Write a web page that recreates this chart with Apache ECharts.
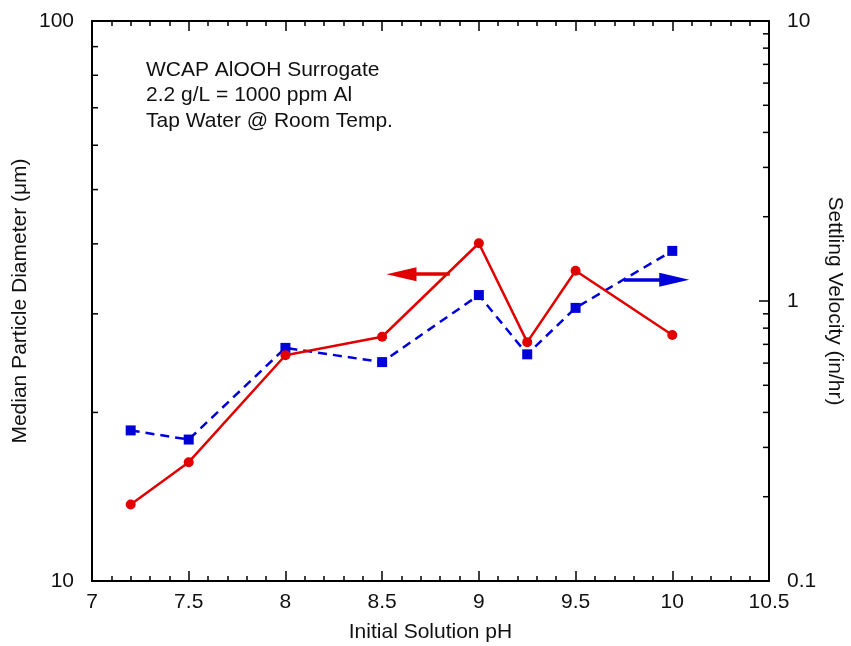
<!DOCTYPE html>
<html>
<head>
<meta charset="utf-8">
<script src="https://cdn.jsdelivr.net/npm/echarts@6/dist/echarts.min.js"></script>
<style>
  html, body { margin: 0; padding: 0; background: #fff; }
  #chart { width: 851px; height: 646px; }
</style>
</head>
<body>
<div id="chart"></div>
<script>
// values
const pH = [7.2, 7.5, 8, 8.5, 9, 9.25, 9.5, 10];
const diameter = [13.7, 16.3, 25.3, 27.3, 40.1, 26.7, 35.8, 27.5];   // um, left axis
const velocity = [0.345, 0.32, 0.68, 0.605, 1.05, 0.645, 0.945, 1.51]; // in/hr, right axis

// log axis minor ticks
const leftMinorTicks = [20, 30, 40, 50, 60, 70, 80, 90];
const rightMinorTicks = [0.2, 0.3, 0.4, 0.5, 0.6, 0.7, 0.8, 0.9, 2, 3, 4, 5, 6, 7, 8, 9];

// arrows: [from, to] in data units
const redArrowX = [8.85, 8.6];
const redArrowY = 35.3;
const blueArrowX = [9.75, 10.01];
const blueArrowY = 1.19;

const noteLines = ['WCAP AlOOH Surrogate', '2.2 g/L = 1000 ppm Al', 'Tap Water @ Room Temp.'];

const FONT = '"Liberation Sans", Arial, sans-serif';
const FS = 21;
const RED = '#e00000';
const BLUE = '#0000d8';

const myChart = echarts.init(document.getElementById('chart'));

function tickSeries(ticks, xVal, yIdx, dir) {
  return {
    type: 'custom',
    xAxisIndex: 0,
    yAxisIndex: yIdx,
    silent: true,
    clip: false,
    z: 10,
    data: ticks.map(v => [xVal, v]),
    renderItem: function (params, api) {
      const p = api.coord([api.value(0), api.value(1)]);
      return {
        type: 'line',
        shape: { x1: p[0], y1: p[1], x2: p[0] + dir * 6, y2: p[1] },
        style: { stroke: '#000', lineWidth: 1.5 }
      };
    }
  };
}

const xCommon = {
  type: 'value',
  min: 7,
  max: 10.5,
  interval: 0.5,
  axisLine: { show: true, onZero: false, lineStyle: { color: '#000', width: 2 } },
  axisTick: { show: true, inside: true, length: 10, lineStyle: { color: '#000', width: 1.5 } },
  minorTick: { show: true, splitNumber: 5, length: 5, lineStyle: { color: '#000', width: 1.5 } },
  splitLine: { show: false },
  minorSplitLine: { show: false }
};

const option = {
  animation: false,
  backgroundColor: '#fff',
  textStyle: { fontFamily: FONT },
  grid: { left: 92, right: 82, top: 21, bottom: 65, outerBoundsMode: 'none', containLabel: false },
  xAxis: [
    Object.assign({}, xCommon, {
      position: 'bottom',
      name: 'Initial Solution pH',
      nameLocation: 'middle',
      nameGap: 41,
      nameTextStyle: { fontSize: FS, color: '#111', fontFamily: FONT },
      axisLabel: { fontSize: FS, color: '#111', margin: 11, fontFamily: FONT }
    }),
    Object.assign({}, xCommon, {
      position: 'top',
      axisLabel: { show: false }
    })
  ],
  yAxis: [
    {
      type: 'log',
      logBase: 10,
      min: 10,
      max: 100,
      position: 'left',
      name: 'Median Particle Diameter (μm)',
      nameLocation: 'middle',
      nameGap: 61,
      nameMoveOverlap: false,
      nameTextStyle: { fontSize: FS, color: '#111', fontFamily: FONT },
      axisLine: { show: true, onZero: false, lineStyle: { color: '#000', width: 2 } },
      axisTick: { show: true, inside: true, length: 10, lineStyle: { color: '#000', width: 1.5 } },
      axisLabel: { fontSize: FS, color: '#111', margin: 18, fontFamily: FONT },
      splitLine: { show: false }
    },
    {
      type: 'log',
      logBase: 10,
      min: 0.1,
      max: 10,
      position: 'right',
      name: 'Settling Velocity (in/hr)',
      nameLocation: 'middle',
      nameRotate: -90,
      nameGap: 55,
      nameMoveOverlap: false,
      nameTextStyle: { fontSize: FS, color: '#111', fontFamily: FONT },
      axisLine: { show: true, onZero: false, lineStyle: { color: '#000', width: 2 } },
      axisTick: { show: true, inside: true, length: 10, lineStyle: { color: '#000', width: 1.5 } },
      axisLabel: { fontSize: FS, color: '#111', margin: 18, fontFamily: FONT },
      splitLine: { show: false }
    }
  ],
  graphic: [
    {
      type: 'text',
      left: 146,
      top: 57,
      silent: true,
      style: {
        text: noteLines.join('\n'),
        fontSize: FS,
        lineHeight: 25.5,
        fill: '#111',
        fontFamily: FONT
      }
    }
  ],
  series: [
    {
      name: 'Settling Velocity',
      type: 'line',
      xAxisIndex: 0,
      yAxisIndex: 1,
      data: pH.map((x, i) => [x, velocity[i]]),
      symbol: 'rect',
      symbolSize: 10,
      itemStyle: { color: BLUE },
      lineStyle: { color: BLUE, width: 2.5, type: [9, 6] },
      markLine: {
        silent: true,
        symbol: ['none', 'triangle'],
        symbolSize: [14, 30],
        label: { show: false },
        lineStyle: { color: BLUE, width: 3.5, type: 'solid' },
        data: [[{ coord: [blueArrowX[0], blueArrowY] }, { coord: [blueArrowX[1], blueArrowY] }]]
      }
    },
    {
      name: 'Median Particle Diameter',
      type: 'line',
      xAxisIndex: 0,
      yAxisIndex: 0,
      data: pH.map((x, i) => [x, diameter[i]]),
      symbol: 'circle',
      symbolSize: 10,
      itemStyle: { color: RED },
      lineStyle: { color: RED, width: 2.5 },
      markLine: {
        silent: true,
        symbol: ['none', 'triangle'],
        symbolSize: [14, 30],
        label: { show: false },
        lineStyle: { color: RED, width: 3.5, type: 'solid' },
        data: [[{ coord: [redArrowX[0], redArrowY] }, { coord: [redArrowX[1], redArrowY] }]]
      }
    },
    tickSeries(leftMinorTicks, 7, 0, 1),
    tickSeries(rightMinorTicks, 10.5, 1, -1)
  ]
};

myChart.setOption(option);
</script>
</body>
</html>
